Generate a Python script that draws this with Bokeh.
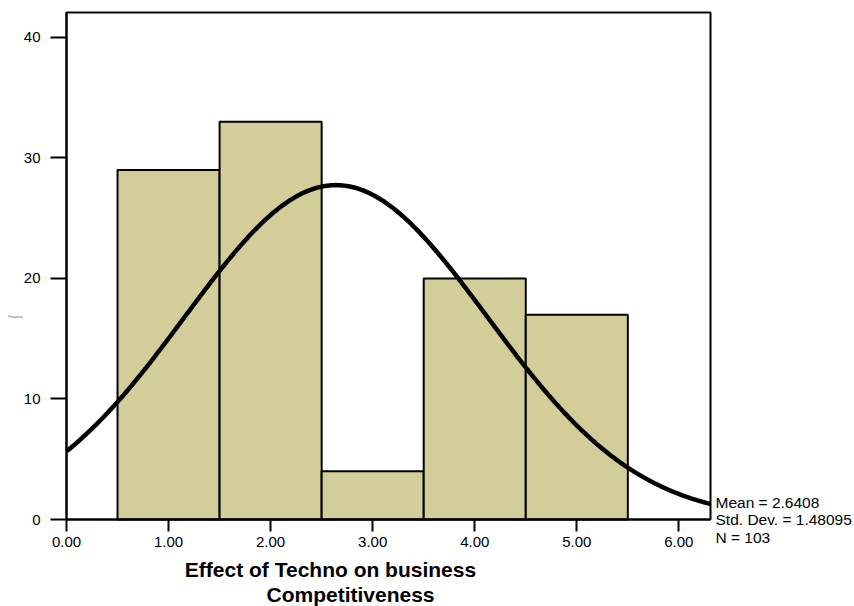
import numpy as np
from bokeh.plotting import figure
from bokeh.models import FixedTicker, Range1d
from bokeh.core.properties import value
from bokeh.embed import file_html
from bokeh.resources import INLINE

# Data
bin_left = [0.5, 1.5, 2.5, 3.5, 4.5]
bin_right = [1.5, 2.5, 3.5, 4.5, 5.5]
counts = [29, 33, 4, 20, 17]
x_ticks = [0, 1, 2, 3, 4, 5, 6]
x_tick_labels = ["0.00", "1.00", "2.00", "3.00", "4.00", "5.00", "6.00"]
y_ticks = [0, 10, 20, 30, 40]
x_max = 6.31
y_max = 42.07
mean_val = 2.6408
sd_val = 1.48095
n_val = 103
bin_width = 1.0
stat_lines = ["Mean = 2.6408", "Std. Dev. = 1.48095", "N = 103"]
x_title_lines = ["Effect of Techno on business", "Competitiveness"]
y_title = "Frequency"

FONT = "Liberation Sans"
W, H = 854, 606
# plot box in canvas pixels
BOX_L, BOX_R, BOX_T, BOX_B = 66, 710, 12, 519
PX_X = (BOX_R - BOX_L) / x_max
PX_Y = (BOX_B - BOX_T) / y_max
TXT_SHIFT = 6.5  # renderer places alphabetic baseline this much lower


def dx(px):
    return (px - BOX_L) / PX_X


def dy(py):
    return (BOX_B - py) / PX_Y


def dy_text(py):
    return dy(py - TXT_SHIFT)


p = figure(width=W, height=H, output_backend="svg", toolbar_location=None,
           x_range=Range1d(dx(0), dx(W)), y_range=Range1d(dy(H), dy(0)),
           min_border_left=0, min_border_right=0, min_border_top=0, min_border_bottom=0)
p.xgrid.visible = False
p.ygrid.visible = False
p.outline_line_color = None
p.background_fill_color = "white"
p.border_fill_color = "white"

p.quad(left=bin_left, right=bin_right, bottom=0, top=counts,
       fill_color="#d3ce99", line_color="black", line_width=2)

xs = np.linspace(0, x_max, 300)
ys = n_val * bin_width * np.exp(-0.5 * ((xs - mean_val) / sd_val) ** 2) / (sd_val * np.sqrt(2 * np.pi))
p.line(xs, ys, line_color="black", line_width=4.5)

# plot box
p.quad(left=[0], right=[x_max], bottom=[0], top=[y_max], fill_color=None,
       line_color="black", line_width=2)

xa, ya = p.xaxis[0], p.yaxis[0]
for ax in (xa, ya):
    ax.fixed_location = 0
    ax.axis_line_color = "black"
    ax.axis_line_width = 2
    ax.major_tick_line_color = "black"
    ax.major_tick_line_width = 2
    ax.major_tick_in = 0
    ax.minor_tick_line_color = None
    ax.major_label_text_font = FONT
    ax.major_label_text_font_size = "15px"
    ax.major_label_text_color = "black"

xa.bounds = (0, x_max)
xa.ticker = FixedTicker(ticks=x_ticks)
xa.major_label_overrides = {t: l for t, l in zip(x_ticks, x_tick_labels)}
xa.major_tick_out = 12
xa.major_label_standoff = 5
ya.bounds = (0, y_max)
ya.ticker = FixedTicker(ticks=y_ticks)
ya.major_tick_out = 16
ya.major_label_standoff = 10

# x axis title (two lines)
p.text(x=[dx(330), dx(350)], y=[dy_text(575), dy_text(600)], text=x_title_lines,
       text_font=value(FONT), text_font_size="21px", text_font_style="bold",
       text_color="black", text_align="center", text_baseline="alphabetic")

# statistics text
p.text(x=[dx(715)] * 3, y=[dy_text(508), dy_text(525.5), dy_text(543)], text=stat_lines,
       text_font=value(FONT), text_font_size="15.5px", text_color="black",
       text_align="left", text_baseline="alphabetic")

# tiny y axis title
p.text(x=[dx(8)], y=[dy_text(323)], text=[y_title],
       text_font=value(FONT), text_font_size="3px", text_color="#555555",
       text_align="left", text_baseline="alphabetic")

open("out.html", "w").write(file_html(p, INLINE))
